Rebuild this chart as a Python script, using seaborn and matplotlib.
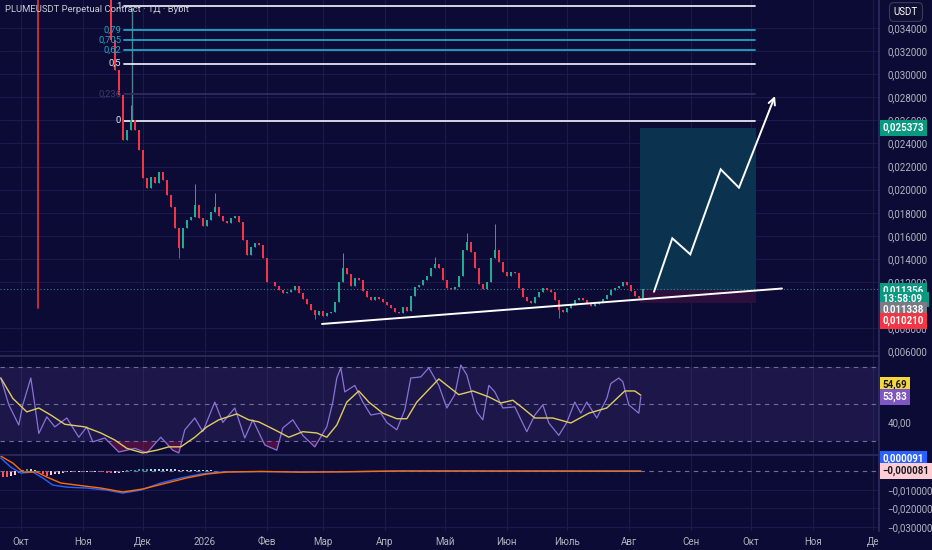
import matplotlib
matplotlib.use("Agg")
import numpy as np
import pandas as pd
import matplotlib.pyplot as plt
import matplotlib.dates as mdates
import seaborn as sns

# ---- data ----
candle_start = "2025-11-15"   # 2-day candles
first_open = 0.0372
closes = [
    0.03296, 0.03036, 0.02820, 0.02430, 0.02517, 0.02603, 0.02517, 0.02344, 0.02101, 0.02014,
    0.02110, 0.02058, 0.02153, 0.02084, 0.01954, 0.01850, 0.01668, 0.01495, 0.01668, 0.01737,
    0.01763, 0.01867, 0.01755, 0.01685, 0.01737, 0.01807, 0.01850, 0.01772, 0.01729, 0.01711,
    0.01755, 0.01772, 0.01720, 0.01564, 0.01434, 0.01503, 0.01538, 0.01521, 0.01408, 0.01200,
    0.01200, 0.01166, 0.01131, 0.01105, 0.01114, 0.01131, 0.01166, 0.01105, 0.01053, 0.01010,
    0.00958, 0.00915, 0.00949, 0.00906, 0.00932, 0.00941, 0.01027, 0.01200, 0.01322, 0.01270,
    0.01166, 0.01235, 0.01218, 0.01122, 0.01071, 0.01045, 0.01071, 0.01053, 0.01027, 0.01001,
    0.00975, 0.00941, 0.00932, 0.00984, 0.00949, 0.01079, 0.01157, 0.01174, 0.01218, 0.01252,
    0.01322, 0.01356, 0.01322, 0.01218, 0.01148, 0.01140, 0.01157, 0.01252, 0.01478, 0.01547,
    0.01460, 0.01322, 0.01183, 0.01140, 0.01200, 0.01408, 0.01478, 0.01374, 0.01287, 0.01252,
    0.01287, 0.01278, 0.01148, 0.01071, 0.01036, 0.01019, 0.01071, 0.01114, 0.01148, 0.01131,
    0.01114, 0.01045, 0.00958, 0.00941, 0.00975, 0.01001, 0.01045, 0.01062, 0.01045, 0.01019,
    0.00993, 0.01010, 0.01027, 0.01053, 0.01088, 0.01131, 0.01148, 0.01166, 0.01200, 0.01174,
    0.01122, 0.01079, 0.01062, 0.01136,
]
spike_high_idx = [5, 21, 26, 58, 81, 89, 96]
spike_high_val = [0.02733, 0.02049, 0.01971, 0.01451, 0.01420, 0.01625, 0.01703]
spike_low_idx = [17, 51, 112]
spike_low_val = [0.01408, 0.00880, 0.00888]

# days counted from 2025-10-01
rsi_day = [-10, -6, -1, 1, 5, 7, 9, 13, 17, 23, 29, 33, 36, 42, 49, 57, 63, 70, 76, 79,
           82, 87, 91, 97, 101, 107, 112, 116, 122, 128, 131, 136, 141, 147, 153, 156, 158, 160, 162, 167,
           171, 175, 180, 183, 188, 192, 195, 200, 204, 209, 213, 217, 220, 223, 228, 231, 234, 237, 241, 247,
           253, 257, 261, 264, 269, 273, 277, 280, 283, 288, 293, 295, 299, 301, 304, 309, 310]
rsi_val = [64, 49.5, 38.6, 49.5, 64, 49.5, 34, 43, 37.6, 42.4, 32, 37.6, 29.5, 31.6, 24, 26, 23.5, 32, 25, 23.5,
           36, 42.4, 35, 51, 40, 47.8, 31.6, 41.4, 27.8, 25, 37, 41.4, 33, 26.8, 37.6, 51, 64, 69.5, 56.5, 60,
           51, 44, 45, 40, 36, 46.8, 64, 64.6, 69.5, 60, 47.8, 55, 71, 65.7, 45.7, 41.4, 60, 56.5, 47.8, 48.4,
           35, 44, 49.5, 39.7, 33, 40, 51, 45, 51, 42.4, 53, 61, 64, 62, 49.5, 45, 53.83]
rsima_day = [-10, -4, 3, 9, 15, 22, 32, 40, 47, 53, 61, 68, 74, 80, 87, 93, 99, 108, 114, 119,
             127, 134, 141, 148, 153, 158, 163, 169, 174, 181, 188, 193, 198, 209, 219, 226, 234, 240, 246, 251,
             257, 266, 275, 284, 293, 302, 307, 310]
rsima_val = [64, 53, 45.7, 47.8, 44, 39, 37.6, 34.3, 30.5, 26, 23.5, 25, 26.8, 26.8, 32, 37.6, 41.4, 44.6, 41.4, 40.3,
             36, 32, 35, 34.3, 32, 38.6, 51, 57, 51, 45, 42, 42, 51, 63.5, 55, 57, 53.8, 50.5, 52, 47.8,
             42.4, 42.4, 39.7, 45, 47.8, 57, 57, 54.69]

macd_day = [-10, -5, 0, 6, 11, 16, 23, 33, 43, 51, 60, 70, 80, 90, 100, 120, 160, 190, 240, 310]
macd_val = [0.0070, 0.0021, -0.0011, -0.0005, -0.0037, -0.0075, -0.0086, -0.0091, -0.0102, -0.0118,
            -0.0102, -0.0064, -0.0037, -0.0016, -0.0005, -0.0003, -0.0004, 0.0001, 0.0001, 0.0001]
signal_day = [-10, -4, 1, 8, 13, 20, 28, 40, 51, 61, 73, 83, 93, 103, 120, 140, 160, 190, 310]
signal_val = [0.0080, 0.0043, -0.0005, -0.0005, -0.0032, -0.0064, -0.0075, -0.0091, -0.0112, -0.0096,
              -0.0064, -0.0037, -0.0016, -0.0005, -0.0002, -0.0006, -0.0004, 0.0000, -0.0001]
hist_start = "2025-09-22"   # 2-day bars
hist_val = [-0.0030, -0.0032, -0.0028, -0.0022, -0.0012, 0.0008, 0.0012, 0.0010, 0.0006, -0.0004,
            -0.0018, -0.0024, -0.0022, -0.0018, -0.0014, -0.0010, -0.0006, -0.0004, -0.0005, -0.0003,
            -0.0004, -0.0003, -0.0004, -0.0003, -0.0004, -0.0006, -0.0010, -0.0012, -0.0011, -0.0009,
            -0.0005, 0.0003, 0.0006, 0.0008, 0.0010, 0.0011, 0.0012, 0.0012, 0.0011, 0.0011,
            0.0010, 0.0010, 0.0009, 0.0009, 0.0008, 0.0008, 0.0007, 0.0006, 0.0006, 0.0005,
            0.0004, 0.0003, 0.0003, 0.0002]

fib_levels = [1, 0.79, 0.705, 0.62, 0.5, 0.236, 0]
fib_labels = ["1", "0,79", "0,705", "0,62", "0,5", "0,236", "0"]
fib_low, fib_high = 0.02595, 0.0359
entry, target, stop = 0.011338, 0.025373, 0.010210
last_price = 0.011356
zig_day = [316.6, 325.75, 334.75, 349.95, 359.1, 377.1]
zig_price = [0.01116, 0.01579, 0.01440, 0.02176, 0.02017, 0.02811]
trend_day = [150.6, 380.6]
trend_price = [0.00837, 0.01144]
month_labels = ["Окт", "Ноя", "Дек", "2026", "Фев", "Мар", "Апр", "Май", "Июн", "Июль",
                "Авг", "Сен", "Окт", "Ноя", "Де"]

# ---- style ----
BG = "#0c0b35"
GRID = "#1b1a4c"
SEP = "#2c2b5e"
TXT = "#b2b5be"
UP, DOWN = "#22ab94", "#f23645"

sns.set_theme(style="dark", rc={"axes.facecolor": BG, "figure.facecolor": BG,
                                "axes.edgecolor": SEP, "grid.color": GRID})
plt.rcParams["font.family"] = ["Roboto", "DejaVu Sans"]

fig = plt.figure(figsize=(9.32, 5.5), dpi=100)
W = 879 / 932
ax = fig.add_axes([0, 1 - 356 / 550, W, 356 / 550])
ax_rsi = fig.add_axes([0, 1 - 455 / 550, W, 99 / 550], sharex=ax)
ax_macd = fig.add_axes([0, 1 - 531 / 550, W, 76 / 550], sharex=ax)

x0 = mdates.date2num(pd.Timestamp("2025-10-01"))
def dx(days):
    return x0 + np.asarray(days, dtype=float)

# ---- candles ----
cx = mdates.date2num(pd.date_range(candle_start, periods=len(closes), freq="2D"))
c = np.array(closes)
o = np.concatenate([[first_open], c[:-1]])
hi = np.maximum(o, c)
lo = np.minimum(o, c)
hi[spike_high_idx] = np.maximum(hi[spike_high_idx], spike_high_val)
lo[spike_low_idx] = np.minimum(lo[spike_low_idx], spike_low_val)
cols = np.where(c >= o, UP, DOWN)
ax.vlines(cx, lo, hi, colors=cols, lw=0.7, zorder=3)
ax.bar(cx, np.maximum(np.abs(c - o), 0.00004), bottom=np.minimum(o, c), width=1.3,
       color=cols, edgecolor="none", zorder=3)

# ---- drawings on price pane ----
ax.axhline(last_price, color="#3f7f86", lw=0.8, ls=(0, (1, 2)), zorder=2)
ax.plot(dx([8.6, 8.6]), [0.0366, 0.00975], color="#d0303a", lw=1.3, zorder=2)
ax.plot(dx([55.6, 55.6]), [0.0357, fib_low], color="#4f7f8c", lw=1.0, zorder=2)
fib_colors = ["#e6e6ef", "#1fa6c4", "#1fa6c4", "#1fa6c4", "#e6e6ef", "#2e2d5c", "#e6e6ef"]
for lvl, lab, col in zip(fib_levels, fib_labels, fib_colors):
    p = fib_low + lvl * (fib_high - fib_low)
    ax.plot(dx([51.5, 367.1]), [p, p], color=col, lw=1.3, zorder=2)
    ax.text(dx(50.2), p, lab, color=col if col != "#2e2d5c" else "#3c3b6a",
            fontsize=6.8, ha="right", va="center", zorder=4)

ax.fill_between(dx([309.6, 367.6]), entry, target, color="#0b3350", lw=0, zorder=1)
ax.fill_between(dx([309.6, 367.6]), stop, entry, color="#2c0f3c", lw=0, zorder=1)
ax.plot(dx(trend_day), trend_price, color="white", lw=1.4, zorder=4)
zx = dx(zig_day)
ax.plot(zx[:-1], zig_price[:-1], color="white", lw=1.4, zorder=4, solid_joinstyle="miter")
ax.annotate("", xy=(zx[-1], zig_price[-1]), xytext=(zx[-2], zig_price[-2]),
            arrowprops=dict(arrowstyle="->", color="white", lw=1.4, mutation_scale=12,
                            shrinkA=0, shrinkB=0), zorder=4)

ax.set_xlim(x0 - 10.4, x0 + 429.1)
ax.set_ylim(0.005596, 0.036425)
pt = [v / 1000 for v in range(6, 36, 2) if v != 10]
ax.set_yticks(pt)
ax.yaxis.set_major_formatter(plt.FuncFormatter(lambda v, _: f"{v:.6f}".replace(".", ",")))

# ---- RSI ----
rx = dx(rsi_day)
rv = np.array(rsi_val)
ax_rsi.fill_between(ax.get_xlim(), 30, 70, color="#7e57c2", alpha=0.15, lw=0)
ax_rsi.fill_between(rx, rv, 30, where=rv < 30, interpolate=True, color="#c2185b", alpha=0.35, lw=0)
ax_rsi.fill_between(rx, rv, 70, where=rv > 70, interpolate=True, color="#089981", alpha=0.35, lw=0)
for lvl in (70, 50, 30):
    ax_rsi.axhline(lvl, color="#6f6d9c", lw=0.8, ls=(0, (4, 4)))
sns.lineplot(x=rx, y=rv, ax=ax_rsi, color="#8a72d8", lw=0.9)
sns.lineplot(x=dx(rsima_day), y=rsima_val, ax=ax_rsi, color="#e0cc62", lw=1.0)
ax_rsi.set_ylim(22.4, 75.9)
ax_rsi.set_yticks([40])
ax_rsi.set_yticklabels(["40,00"])

# ---- MACD ----
hx = mdates.date2num(pd.date_range(hist_start, periods=len(hist_val), freq="2D"))
hv = np.array(hist_val)
prev = np.concatenate([[0], hv[:-1]])
hcol = np.where(hv >= 0, np.where(hv > prev, "#26a69a", "#b2dfdb"),
                np.where(hv < prev, "#ff5252", "#ffcdd2"))
ax_macd.bar(hx, hv, width=1.1, color=hcol, edgecolor="none")
ax_macd.axhline(0, color="#6f6d9c", lw=0.8, ls=(0, (4, 4)))
sns.lineplot(x=dx(macd_day), y=macd_val, ax=ax_macd, color="#2962ff", lw=1.0)
sns.lineplot(x=dx(signal_day), y=signal_val, ax=ax_macd, color="#ff6d00", lw=1.0)
ax_macd.set_ylim(-0.0321, 0.0086)
ax_macd.set_yticks([-0.01, -0.02, -0.03])
ax_macd.set_yticklabels(["\u22120,010000", "\u22120,020000", "\u22120,030000"])

mticks = mdates.date2num(pd.date_range("2025-10-01", "2026-12-01", freq="MS"))
ax_macd.set_xticks(mticks)
ax_macd.set_xticklabels(month_labels)

for a in (ax, ax_rsi, ax_macd):
    a.yaxis.tick_right()
    a.tick_params(axis="y", length=0, pad=6, labelsize=7, labelcolor=TXT)
    a.tick_params(axis="x", length=0, pad=4, labelsize=7, labelcolor=TXT)
    a.grid(True, axis="x", color=GRID, lw=0.8)
    a.set_xlabel("")
    a.set_ylabel("")
    for s in ("left", "bottom"):
        a.spines[s].set_visible(False)
    a.spines["right"].set_color(SEP)
    a.spines["top"].set_color(SEP)
ax.grid(True, axis="y", color=GRID, lw=0.8)
ax_macd.grid(True, axis="y", color=GRID, lw=0.8)
ax.spines["top"].set_visible(False)
ax.tick_params(axis="x", labelbottom=False)
ax_rsi.tick_params(axis="x", labelbottom=False)


def tag(a, y, text, fc, tc="white", data=True):
    tr = a.get_yaxis_transform() if data else a.transAxes
    a.text(1.004, y, text, transform=tr, ha="left", va="center", fontsize=7,
           color=tc, fontweight="bold", zorder=10, clip_on=False,
           bbox=dict(boxstyle="square,pad=0.3", fc=fc, ec="none"))


fmt = lambda v: f"{v:.6f}".replace(".", ",")
tag(ax, target, fmt(target), "#089981")
tag(ax, 1 - 290.7 / 356, fmt(last_price), "#089981", data=False)
tag(ax, 1 - 299.5 / 356, "13:58:09  ", "#089981", data=False)
tag(ax, 1 - 310 / 356, fmt(entry), "#787b86", data=False)
tag(ax, 1 - 320.7 / 356, fmt(stop), "#f23645", data=False)
tag(ax_rsi, (455 - 385) / 99, f"{rsima_val[-1]:.2f}".replace(".", ","), "#f5d73c", "#131722", data=False)
tag(ax_rsi, (455 - 396.7) / 99, f"{rsi_val[-1]:.2f}".replace(".", ","), "#7e57c2", data=False)
tag(ax_macd, (531 - 459.3) / 76, "0,000091", "#2962ff", data=False)
tag(ax_macd, (531 - 471) / 76, "\u22120,000081", "#ffcdd2", "#131722", data=False)

fig.text(5 / 932, 1 - 10 / 550, "PLUMEUSDT Perpetual Contract · 1Д · Bybit", color="#c8cad4",
         fontsize=6.8, ha="left", va="center")
fig.text(906 / 932, 1 - 12 / 550, "USDT", color="white", fontsize=7, ha="center", va="center",
         bbox=dict(boxstyle="round,pad=0.45", fc="#0f0e33", ec="#3a3d55", lw=0.8))

fig.savefig("out.png", dpi=100, facecolor=BG)
